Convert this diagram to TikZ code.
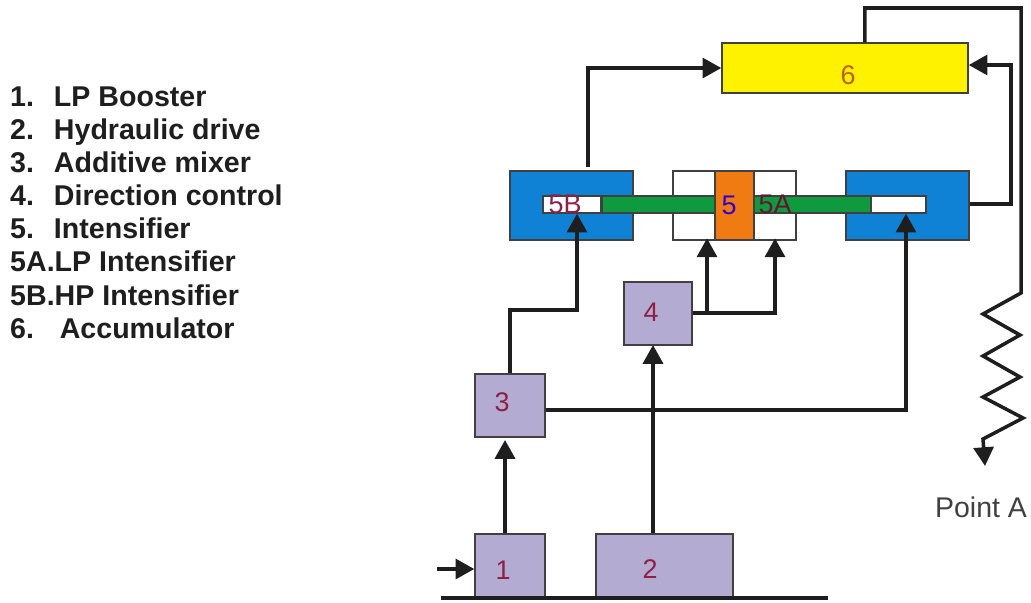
\documentclass[tikz,border=0pt]{standalone}
\usepackage{fontspec}
\setmainfont{Liberation Sans}
\usetikzlibrary{arrows.meta, calc}
\definecolor{boxpurple}{HTML}{B4ABD2}
\definecolor{cylblue}{HTML}{0F82D6}
\definecolor{rodgreen}{HTML}{0F9A40}
\definecolor{pistonorange}{HTML}{F07B12}
\definecolor{tagred}{HTML}{8E1F45}
\definecolor{linegray}{HTML}{1E1E1E}
\tikzset{
    unit/.style={rectangle, draw=linegray!85, line width=1.2pt, inner sep=0pt},
    purplebox/.style={unit, fill=boxpurple},
    cylinder/.style={unit, fill=cylblue, minimum width=3.69cm, minimum height=2.07cm},
    bore/.style={unit, fill=white, minimum height=0.51cm},
    tag/.style={font=\fontsize{23}{26}\selectfont, text=tagred, inner sep=0pt},
    legend/.style={anchor=west, font=\fontsize{24.4}{28}\selectfont\bfseries, text=linegray, inner sep=0pt, text height=22pt, text depth=4pt},
    flow/.style={line width=3pt, draw=linegray, -{Triangle[length=16pt,width=17pt]}},
    plain/.style={line width=3pt, draw=linegray}
}
\begin{document}
\begin{tikzpicture}[x=0.03cm, y=-0.03cm]
        \useasboundingbox (0,0) rectangle (1031,602);

        % Legend
        \node (leg1) [legend] at (10,96) {1.\hspace{17pt}LP Booster};
        \node (leg2) [legend] at (10,129) {2.\hspace{17pt}Hydraulic drive};
        \node (leg3) [legend] at (10,162) {3.\hspace{17pt}Additive mixer};
        \node (leg4) [legend] at (10,195) {4.\hspace{17pt}Direction control};
        \node (leg5) [legend] at (10,228) {5.\hspace{17pt}Intensifier};
        \node (leg5a) [legend] at (10,261) {5A.LP Intensifier};
        \node (leg5b) [legend] at (10,295) {5B.HP Intensifier};
        \node (leg6) [legend] at (10,328) {6.\hspace{22pt}Accumulator};

        % Ground line
        \coordinate (baseL) at (441,598);
        \coordinate (baseR) at (828,598);

        % Boxes
        \node (box1) [purplebox, minimum width=2.1cm, minimum height=1.89cm] at (510,565.5) {};
        \node (box2) [purplebox, minimum width=4.11cm, minimum height=1.89cm] at (664.5,565.5) {};
        \node (box3) [purplebox, minimum width=2.1cm, minimum height=1.89cm] at (510,405.5) {};
        \node (box4) [purplebox, minimum width=2.04cm, minimum height=1.89cm] at (658,313.5) {};
        \node (box6) [unit, fill=yellow, minimum width=7.38cm, minimum height=1.5cm] at (845,68) {};

        % Intensifier
        \node (cylB) [cylinder] at (571.5,205.5) {};
        \node (cylA) [cylinder] at (907.5,205.5) {};
        \node (cylC) [unit, fill=white, minimum width=3.69cm, minimum height=2.07cm] at (734.5,205.5) {};
        \node (boreB) [bore, minimum width=1.74cm] at (572,204.5) {};
        \node (boreA) [bore, minimum width=1.65cm] at (898.5,204.5) {};
        \node (rod) [unit, fill=rodgreen, minimum width=8.07cm, minimum height=0.51cm] at (736.5,204.5) {};
        \node (box5) [unit, fill=pistonorange, minimum width=1.17cm, minimum height=2.07cm] at (734.5,205.5) {};

        % Numbers
        \node (tag1) [tag] at (503,570) {1};
        \node (tag2) [tag] at (650,569) {2};
        \node (tag3) [tag] at (502,402) {3};
        \node (tag4) [tag] at (651,312) {4};
        \node (tag5) [tag, text=blue!60!violet] at (729,205) {5};
        \node (tag5a) [tag, text=tagred!70!black] at (775,204) {5A};
        \node (tag5b) [tag] at (565,204) {5B};
        \node (tag6) [tag, text=orange!75!black] at (848,75) {6};

        \node (pointA) [inner sep=0pt, font=\fontsize{24.3}{27}\selectfont, text=linegray!85] at (981,507) {Point A};
        \coordinate (tipA) at (985,466);
        \coordinate (inlet) at (437,569);
        \coordinate (bendTop) at (1021,8);
        \coordinate (bendRet) at (1011,65);
        \coordinate (bend3) at (577,310);
        \coordinate (in3) at (505,440);
        \coordinate (in4) at (653,345);
        \coordinate (out3) at (906,410);
        \coordinate (out4) at (707,313);
        \coordinate (out4b) at (775,313);
        \coordinate (outA) at (1011,204);
        \coordinate (riseB) at (588,167);

        % Connections
        \draw[plain] (baseL) -- (baseR);
        \draw[flow] (inlet) -- (box1.west |- inlet);
        \draw[flow] (box1.north -| in3) -- (in3);
        \draw[flow] (box2.north -| in4) -- (in4);
        \draw[flow] (box3.north) |- (bend3) -- (boreB.south -| bend3);
        \draw[flow] (box3.east |- out3) -- (out3) -- (boreA.south -| out3);
        \draw[flow] (box4.east |- out4) -- (out4) -- ([yshift=2pt]box5.south -| out4);
        \draw[flow] (box4.east |- out4) -- (out4b) -- ([yshift=2pt]box5.south -| out4b);
        \draw[flow] (riseB) |- (box6.west);
        \draw[flow] (cylA.east |- outA) -- (outA) |- (box6.east |- bendRet);
        \draw[flow, line join=miter] ([xshift=17pt]box6.north) |- (bendTop) -- (1021,293) -- (983,314) -- (1020,335) -- (983,356) -- (1020,377) -- (983,397) -- (1023,418) -- (983,439) -- (tipA);
\end{tikzpicture}
\end{document}
